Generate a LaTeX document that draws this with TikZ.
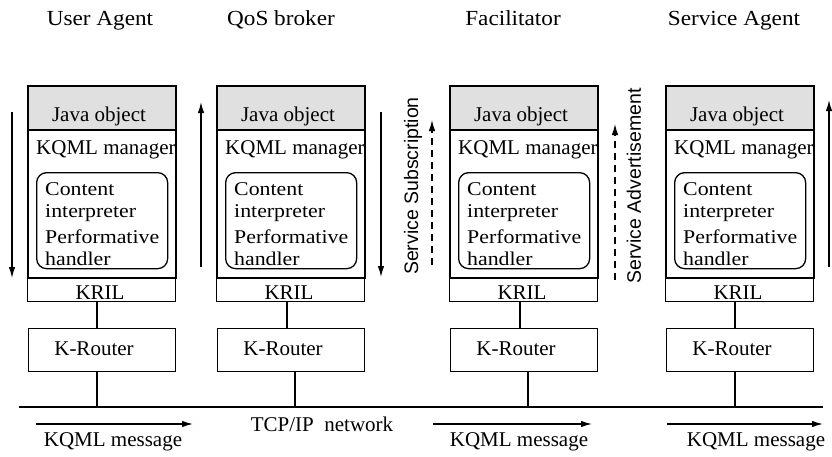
\documentclass[tikz,border=0pt]{standalone}
\usepackage{fontspec}
\setmainfont{Liberation Serif}
\newfontfamily\labsans{Liberation Sans}
\newfontfamily\widefont[FakeStretch=1.12]{Liberation Serif}
\newfontfamily\ttlfont[FakeStretch=1.08]{Liberation Serif}
\usetikzlibrary{arrows.meta}
\begin{document}
\begin{tikzpicture}[x=1pt,y=-1pt,
  body/.style={font=\fontsize{21}{21}\selectfont, inner sep=0pt},
  inl/.style={font=\widefont\fontsize{19.5}{19.5}\selectfont, inner sep=0pt, anchor=base west},
  ttl/.style={font=\ttlfont\fontsize{21.5}{21.5}\selectfont, inner sep=0pt},
  sidelab/.style={font=\labsans\fontsize{19.5}{19.5}\selectfont, inner sep=0pt},
  javabox/.style={draw, line width=1.8pt, fill=black!12, minimum width=148pt, minimum height=44pt, inner sep=0pt},
  mgrbox/.style={draw, line width=1.8pt, minimum width=148pt, minimum height=148pt, inner sep=0pt},
  krilbox/.style={draw, line width=1.1pt, minimum width=148pt, minimum height=24pt, inner sep=0pt},
  routerbox/.style={draw, line width=1.1pt, minimum width=147pt, minimum height=43pt, inner sep=0pt},
  innerbox/.style={draw, line width=1.3pt, rounded corners=10pt, minimum width=131pt, minimum height=96pt, inner sep=0pt},
  conn/.style={line width=1.1pt},
  flow/.style={line width=1.3pt, -{Latex[length=11pt,width=6.5pt]}},
  dflow/.style={flow, dash pattern=on 7pt off 5pt}
]
\useasboundingbox (0,0) rectangle (832,456);

% titles
\node[ttl, anchor=base] (t1) at (100,25) {User Agent};
\node[ttl, anchor=base] (t2) at (281,25) {QoS broker};
\node[ttl, anchor=base] (t3) at (513,25) {Facilitator};
\node[ttl, anchor=base] (t4) at (734,25) {Service Agent};

% network
\coordinate (netL) at (19,407);
\coordinate (netR) at (823,407);
\draw[line width=2pt] (netL) -- (netR);

\foreach \i/\L/\a/\b in {1/27/70/70, 2/216/71/79, 3/449/71/79, 4/665/70/70} {
  \node[krilbox, anchor=north west] (kril\i) at (\L,277) {};
  \node[body, anchor=base] (krt\i) at (\L+73,299) {KRIL};
  \node[javabox, anchor=north west] (java\i) at (\L,85) {};
  \node[body, anchor=base] (jt\i) at (\L+72,121) {Java object};
  \node[mgrbox, anchor=north west] (mgr\i) at (\L,129) {};
  \node[body, anchor=base west] (km\i) at (\L+9,154) {KQML manager};
  \node[innerbox, anchor=north west] (inner\i) at (\L+9,172) {};
  \node[inl] (ca\i) at (\L+18,195.5) {Content};
  \node[inl] (cb\i) at (\L+18,217.5) {interpreter};
  \node[inl] (pa\i) at (\L+18,243) {Performative};
  \node[inl] (pb\i) at (\L+18,265) {handler};
  \node[routerbox, anchor=north west] (kr\i) at (\L+1,328) {};
  \node[body, anchor=base] (krn\i) at (\L+67,355) {K-Router};
  \coordinate (u\i) at (\L+\a,301);
  \coordinate (d\i) at (\L+\b,371);
  \draw[conn] (kril\i.south -| u\i) -- (kr\i.north -| u\i);
  \draw[conn] (kr\i.south -| d\i) -- (netL -| d\i);
}

% vertical flow arrows
\coordinate (a1s) at (12,112);  \coordinate (a1e) at (12,278);
\coordinate (a2s) at (201,267); \coordinate (a2e) at (201,102);
\coordinate (a3s) at (381,112); \coordinate (a3e) at (381,277);
\coordinate (a4s) at (432,265); \coordinate (a4e) at (432,120);
\coordinate (a5s) at (615,280); \coordinate (a5e) at (615,124);
\coordinate (a6s) at (829,267); \coordinate (a6e) at (829,100);
\draw[flow] (a1s) -- (a1e);
\draw[flow] (a2s) -- (a2e);
\draw[flow] (a3s) -- (a3e);
\draw[dflow] (a4s) -- (a4e);
\draw[dflow] (a5s) -- (a5e);
\draw[flow] (a6s) -- (a6e);

\node[sidelab, rotate=90] (ss) at (413,186) {Service Subscription};
\node[sidelab, rotate=90] (sa) at (634,186) {Service Advertisement};

% bottom
\node[body, anchor=base] (tcp) at (322,431) {TCP/IP\ \ network};
\coordinate (m1s) at (36,424);  \coordinate (m1e) at (193,424);
\coordinate (m2s) at (433,424); \coordinate (m2e) at (592,424);
\coordinate (m3s) at (667,424); \coordinate (m3e) at (823,424);
\draw[flow] (m1s) -- (m1e);
\draw[flow] (m2s) -- (m2e);
\draw[flow] (m3s) -- (m3e);
\node[body, anchor=base] (k1) at (113,446) {KQML message};
\node[body, anchor=base] (k2) at (519,446) {KQML message};
\node[body, anchor=base] (k3) at (756,446) {KQML message};
\end{tikzpicture}
\end{document}
